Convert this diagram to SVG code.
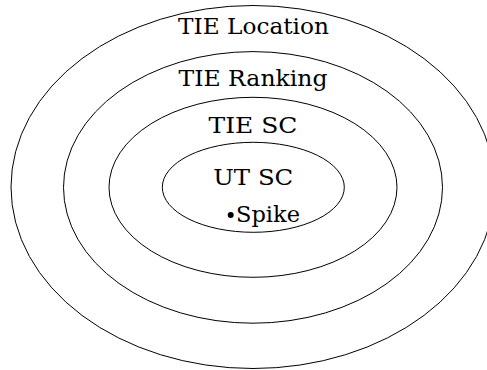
<svg xmlns="http://www.w3.org/2000/svg" width="487" height="370" viewBox="0 0 487 370">
<style>
  .ring { fill: none; stroke: #000; stroke-width: 1; }
  .lbl { font-family: "DejaVu Serif", "Liberation Serif", serif; font-size: 23px; fill: #000; }
</style>
<rect width="487" height="370" fill="#fff"/>
<g id="tie-location">
  <ellipse class="ring" cx="253" cy="187" rx="242" ry="181.5"/>
  <text class="lbl" x="253.5" y="34" text-anchor="middle" textLength="151" lengthAdjust="spacingAndGlyphs">TIE Location</text>
</g>
<g id="tie-ranking">
  <ellipse class="ring" cx="253" cy="187.4" rx="189.5" ry="135.8"/>
  <text class="lbl" x="253" y="86" text-anchor="middle" textLength="149" lengthAdjust="spacingAndGlyphs">TIE Ranking</text>
</g>
<g id="tie-sc">
  <ellipse class="ring" cx="253" cy="187.3" rx="144" ry="90"/>
  <text class="lbl" x="253" y="133.3" text-anchor="middle" textLength="89" lengthAdjust="spacingAndGlyphs">TIE SC</text>
</g>
<g id="ut-sc">
  <ellipse class="ring" cx="253.3" cy="187.3" rx="91" ry="45"/>
  <text class="lbl" x="253.3" y="185" text-anchor="middle" textLength="80" lengthAdjust="spacingAndGlyphs">UT SC</text>
</g>
<g id="spike">
  <circle cx="230.7" cy="215" r="3" fill="#000"/>
  <text class="lbl" x="236" y="221.7" textLength="64" lengthAdjust="spacingAndGlyphs">Spike</text>
</g>
<g id="connectors"/>
</svg>
